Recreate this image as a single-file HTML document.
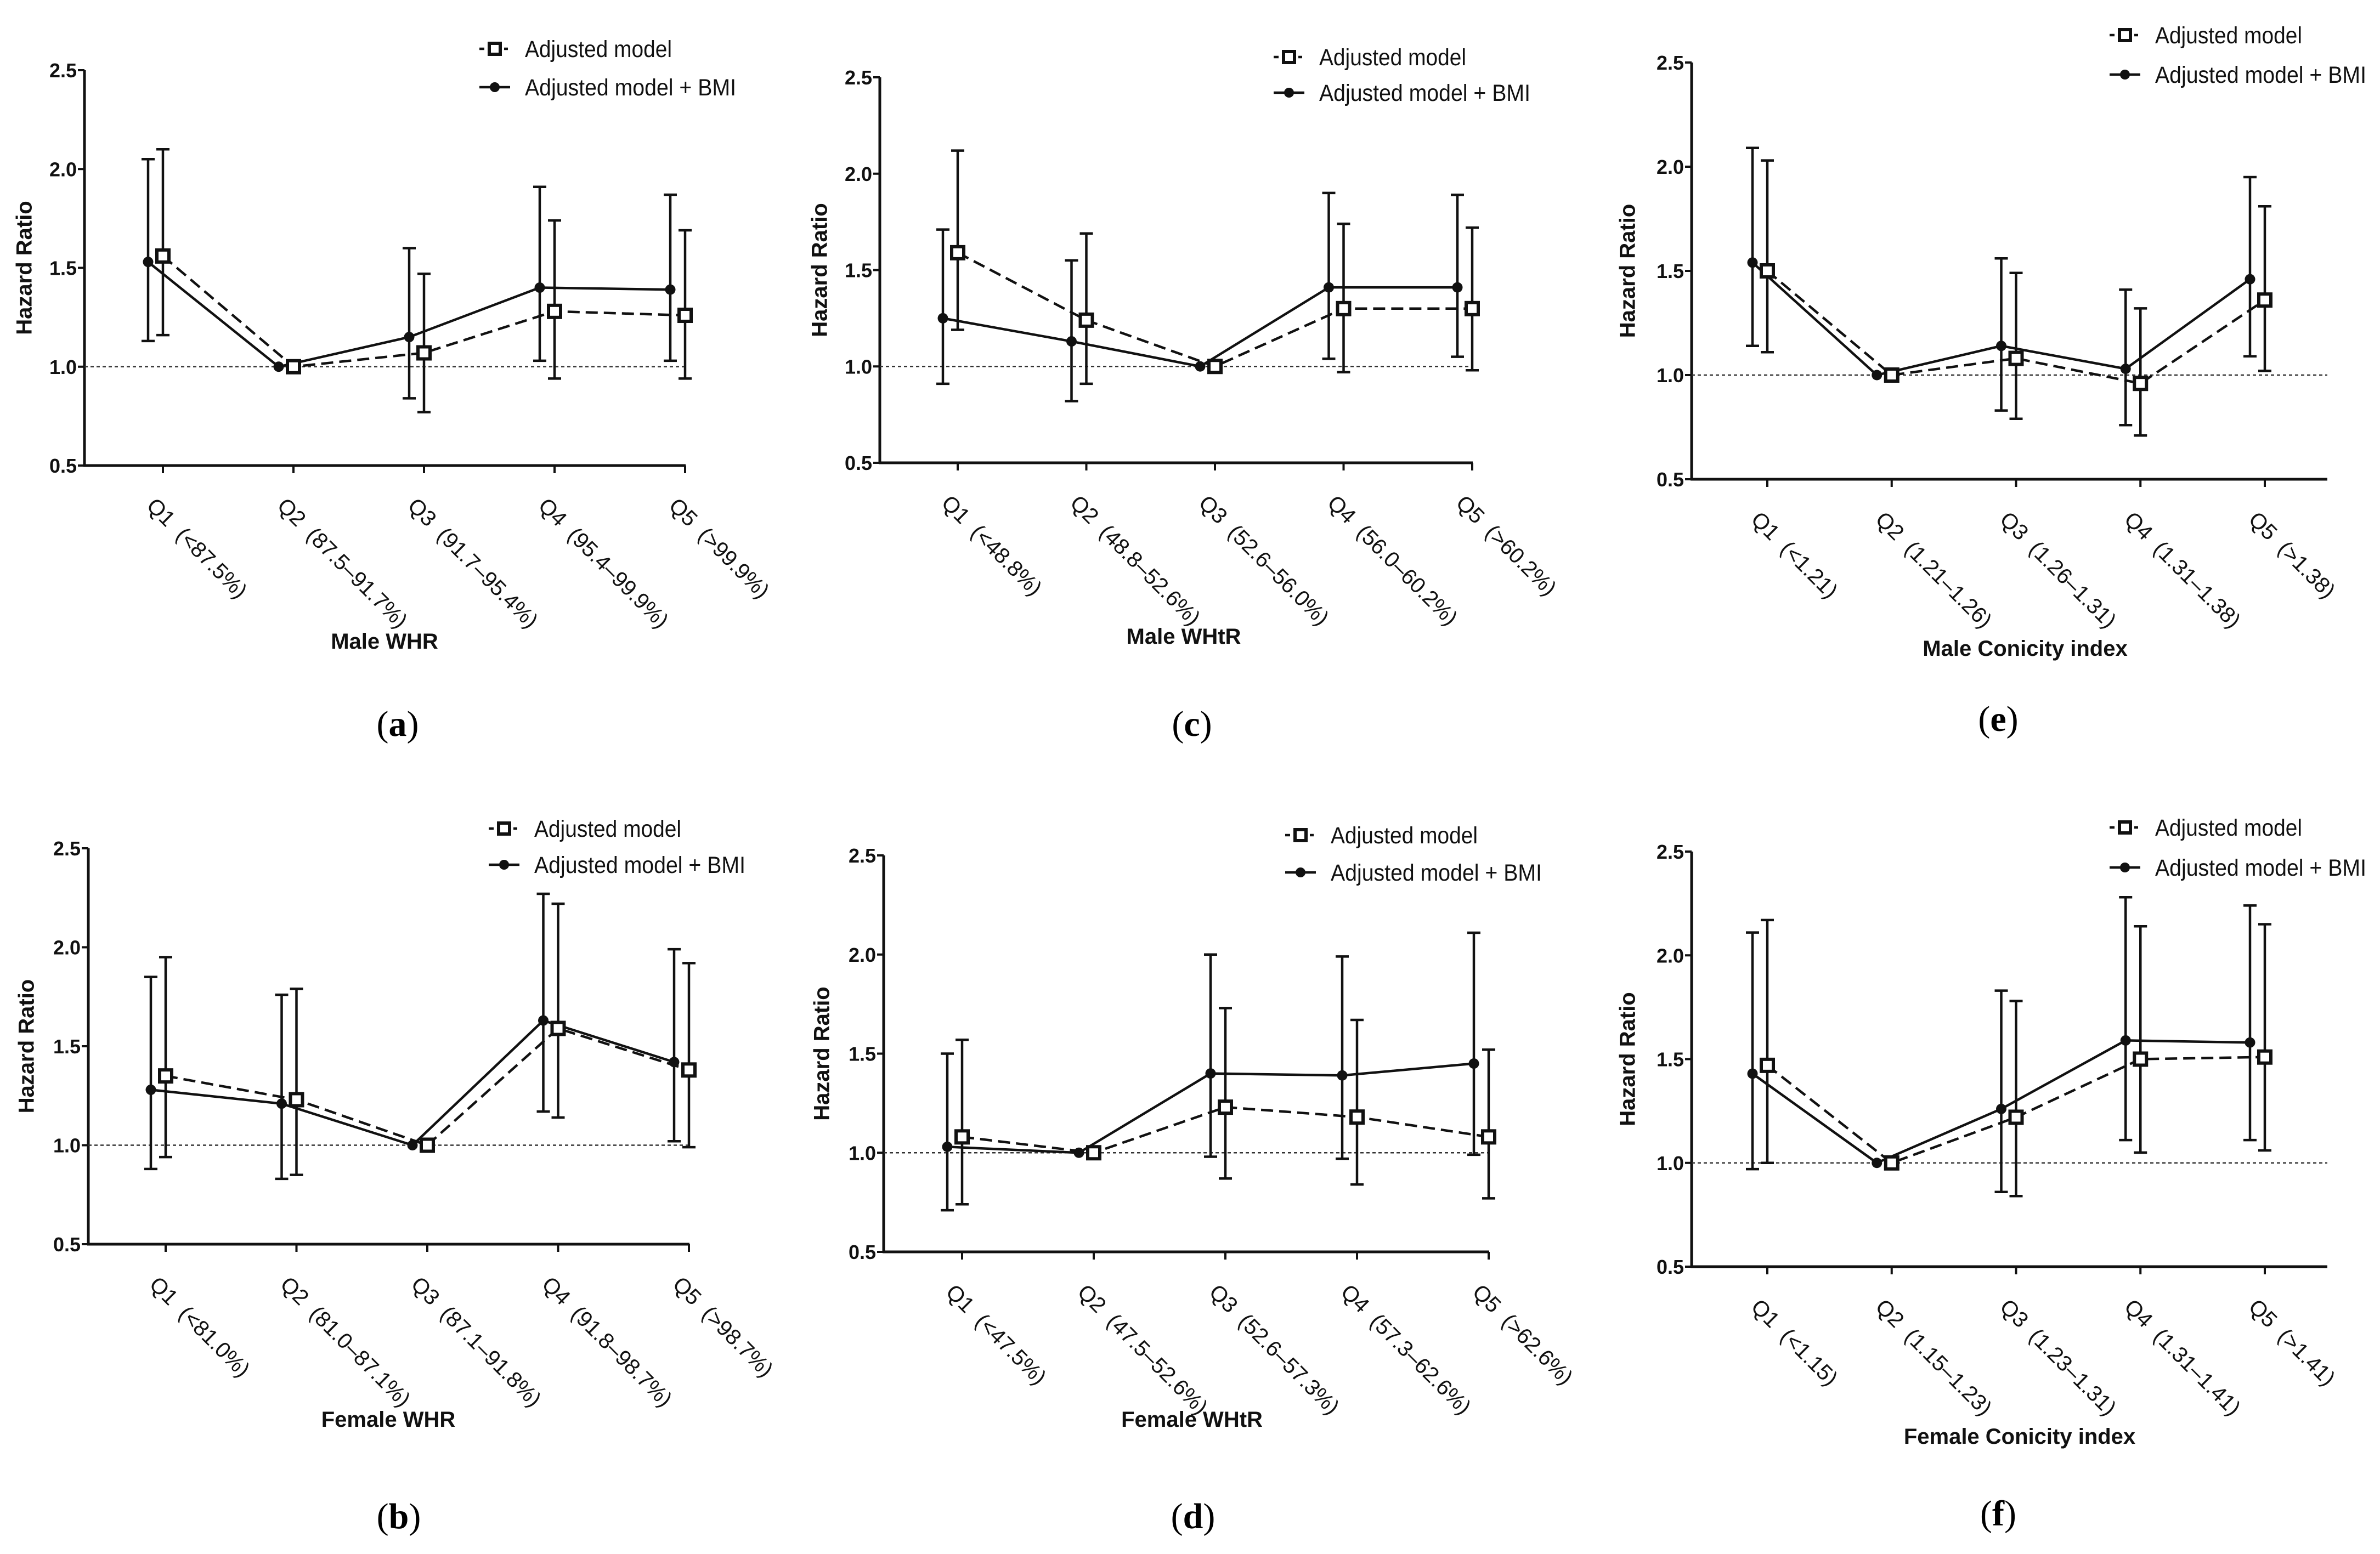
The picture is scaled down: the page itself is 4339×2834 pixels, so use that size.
<!DOCTYPE html>
<html><head><meta charset="utf-8"><style>
html,body{margin:0;padding:0;background:#fff;}
svg{display:block;}
</style></head><body>
<svg id="fig" xmlns="http://www.w3.org/2000/svg" width="4339" height="2834" viewBox="0 0 4339 2834" font-family="Liberation Sans, Arial, sans-serif"></svg>
<script>
// ---- data ----
const categories = ["Q1","Q2","Q3","Q4","Q5"];
const yTicks = [0.5,1.0,1.5,2.0,2.5];
const yTickLabels = ["0.5","1.0","1.5","2.0","2.5"];
const legendLabels = ["Adjusted model","Adjusted model + BMI"];

const aRanges = ["(<87.5%)","(87.5–91.7%)","(91.7–95.4%)","(95.4–99.9%)","(>99.9%)"];
const aAdj = [1.56,1.00,1.07,1.28,1.26];
const aAdjLo = [1.16,null,0.77,0.94,0.94];
const aAdjHi = [2.10,null,1.47,1.74,1.69];
const aBmi = [1.53,1.00,1.15,1.40,1.39];
const aBmiLo = [1.13,null,0.84,1.03,1.03];
const aBmiHi = [2.05,null,1.60,1.91,1.87];

const cRanges = ["(<48.8%)","(48.8–52.6%)","(52.6–56.0%)","(56.0–60.2%)","(>60.2%)"];
const cAdj = [1.59,1.24,1.00,1.30,1.30];
const cAdjLo = [1.19,0.91,null,0.97,0.98];
const cAdjHi = [2.12,1.69,null,1.74,1.72];
const cBmi = [1.25,1.13,1.00,1.41,1.41];
const cBmiLo = [0.91,0.82,null,1.04,1.05];
const cBmiHi = [1.71,1.55,null,1.90,1.89];

const eRanges = ["(<1.21)","(1.21–1.26)","(1.26–1.31)","(1.31–1.38)","(>1.38)"];
const eAdj = [1.50,1.00,1.08,0.96,1.36];
const eAdjLo = [1.11,null,0.79,0.71,1.02];
const eAdjHi = [2.03,null,1.49,1.32,1.81];
const eBmi = [1.54,1.00,1.14,1.03,1.46];
const eBmiLo = [1.14,null,0.83,0.76,1.09];
const eBmiHi = [2.09,null,1.56,1.41,1.95];

const bRanges = ["(<81.0%)","(81.0–87.1%)","(87.1–91.8%)","(91.8–98.7%)","(>98.7%)"];
const bAdj = [1.35,1.23,1.00,1.59,1.38];
const bAdjLo = [0.94,0.85,null,1.14,0.99];
const bAdjHi = [1.95,1.79,null,2.22,1.92];
const bBmi = [1.28,1.21,1.00,1.63,1.42];
const bBmiLo = [0.88,0.83,null,1.17,1.02];
const bBmiHi = [1.85,1.76,null,2.27,1.99];

const dRanges = ["(<47.5%)","(47.5–52.6%)","(52.6–57.3%)","(57.3–62.6%)","(>62.6%)"];
const dAdj = [1.08,1.00,1.23,1.18,1.08];
const dAdjLo = [0.74,null,0.87,0.84,0.77];
const dAdjHi = [1.57,null,1.73,1.67,1.52];
const dBmi = [1.03,1.00,1.40,1.39,1.45];
const dBmiLo = [0.71,null,0.98,0.97,0.99];
const dBmiHi = [1.50,null,2.00,1.99,2.11];

const fRanges = ["(<1.15)","(1.15–1.23)","(1.23–1.31)","(1.31–1.41)","(>1.41)"];
const fAdj = [1.47,1.00,1.22,1.50,1.51];
const fAdjLo = [1.00,null,0.84,1.05,1.06];
const fAdjHi = [2.17,null,1.78,2.14,2.15];
const fBmi = [1.43,1.00,1.26,1.59,1.58];
const fBmiLo = [0.97,null,0.86,1.11,1.11];
const fBmiHi = [2.11,null,1.83,2.28,2.24];

// ---- layout (pixels) ----
const panels = [
 {id:"a",title:"Male WHR",ranges:aRanges,adj:aAdj,adjLo:aAdjLo,adjHi:aAdjHi,bmi:aBmi,bmiLo:aBmiLo,bmiHi:aBmiHi,
  ax:154,y25:128,y05:849,q1:297,q5:1249,xend:1250,lx:902,ly1:89,ly2:159,hx:47,tx:701,ty:1169,px:725,py:1320},
 {id:"c",title:"Male WHtR",ranges:cRanges,adj:cAdj,adjLo:cAdjLo,adjHi:cAdjHi,bmi:cBmi,bmiLo:cBmiLo,bmiHi:cBmiHi,
  ax:1604,y25:141,y05:844,q1:1746,q5:2684,xend:2685,lx:2350,ly1:104,ly2:169,hx:1497,tx:2158,ty:1160,px:2173,py:1320},
 {id:"e",title:"Male Conicity index",ranges:eRanges,adj:eAdj,adjLo:eAdjLo,adjHi:eAdjHi,bmi:eBmi,bmiLo:eBmiLo,bmiHi:eBmiHi,
  ax:3084,y25:114,y05:874,q1:3222,q5:4129,xend:4243,lx:3874,ly1:64,ly2:136,hx:2970,tx:3692,ty:1182,px:3643,py:1311},
 {id:"b",title:"Female WHR",ranges:bRanges,adj:bAdj,adjLo:bAdjLo,adjHi:bAdjHi,bmi:bBmi,bmiLo:bBmiLo,bmiHi:bBmiHi,
  ax:161,y25:1547,y05:2269,q1:302,q5:1256,xend:1257,lx:919,ly1:1511,ly2:1577,hx:51,tx:708,ty:2588,px:727,py:2765},
 {id:"d",title:"Female WHtR",ranges:dRanges,adj:dAdj,adjLo:dAdjLo,adjHi:dAdjHi,bmi:dBmi,bmiLo:dBmiLo,bmiHi:dBmiHi,
  ax:1611,y25:1560,y05:2283,q1:1754,q5:2714,xend:2715,lx:2371,ly1:1523,ly2:1591,hx:1501,tx:2173,ty:2588,px:2175,py:2765},
 {id:"f",title:"Female Conicity index",ranges:fRanges,adj:fAdj,adjLo:fAdjLo,adjHi:fAdjHi,bmi:fBmi,bmiLo:fBmiLo,bmiHi:fBmiHi,
  ax:3084,y25:1553,y05:2310,q1:3222,q5:4129,xend:4243,lx:3874,ly1:1509,ly2:1582,hx:2970,tx:3682,ty:2619,px:3643,py:2760}
];
const legendWidths=[268,385];

const NS="http://www.w3.org/2000/svg";
const svg=document.getElementById("fig");
function mk(tag,attrs,parent){const e=document.createElementNS(NS,tag);for(const k in attrs)e.setAttribute(k,attrs[k]);(parent||svg).appendChild(e);return e;}

panels.forEach(p=>{
  const g=mk("g",{});
  
  
  const yS=v=>p.y05+(p.y25-p.y05)*(v-0.5)/2.0;
  const xS=i=>p.q1+(p.q5-p.q1)*i/(categories.length-1);
  const off=27;
  const ya=mk("line",{x1:p.ax,y1:p.y25,x2:p.ax,y2:p.y05+2,stroke:"#111","stroke-width":5},g);
  
  
  const xa=mk("line",{x1:p.ax-2,y1:p.y05,x2:p.xend,y2:p.y05,stroke:"#111","stroke-width":5},g);
  
  
  yTicks.forEach((v,i)=>{
    mk("line",{x1:p.ax-12,y1:yS(v),x2:p.ax,y2:yS(v),stroke:"#111","stroke-width":4},g);
    const t=mk("text",{x:p.ax-14,y:yS(v)+13,"text-anchor":"end","font-size":36,"font-weight":"bold",fill:"#111"},g);
    t.textContent=yTickLabels[i];
    
    
  });
  const rl=mk("line",{x1:p.ax,y1:yS(1),x2:p.xend,y2:yS(1),stroke:"#333","stroke-width":2.5,"stroke-dasharray":"6 5"},g);
  
  
  categories.forEach((c,i)=>{
    const x=xS(i);
    mk("line",{x1:x,y1:p.y05,x2:x,y2:p.y05+14,stroke:"#111","stroke-width":4},g);
    const tx=x-12, ty=p.y05+56;
    const t=mk("text",{x:tx,y:ty,transform:`rotate(45 ${tx} ${ty})`,"font-size":40,fill:"#111","dominant-baseline":"hanging"},g);
    t.textContent=c+"\u00a0\u00a0"+p.ranges[i];
    
    
  });
  function ebar(x,lo,hi,name){
    if(lo==null)return;
    const eg=mk("g",{stroke:"#111","stroke-width":4.5,fill:"none"},g);
    
    
    mk("line",{x1:x,y1:yS(lo),x2:x,y2:yS(hi)},eg);
    mk("line",{x1:x-12,y1:yS(lo),x2:x+12,y2:yS(lo)},eg);
    mk("line",{x1:x-12,y1:yS(hi),x2:x+12,y2:yS(hi)},eg);
  }
  categories.forEach((c,i)=>{ebar(xS(i)-off,p.bmiLo[i],p.bmiHi[i],'error-bar-bmi');ebar(xS(i),p.adjLo[i],p.adjHi[i],'error-bar-adjusted');});
  const bl=mk("polyline",{points:p.bmi.map((v,i)=>`${xS(i)-off},${yS(v)}`).join(" "),fill:"none",stroke:"#111","stroke-width":4.5},g);
  
  
  const al=mk("polyline",{points:p.adj.map((v,i)=>`${xS(i)},${yS(v)}`).join(" "),fill:"none",stroke:"#111","stroke-width":4.5,"stroke-dasharray":"22 11"},g);
  
  
  p.bmi.forEach((v,i)=>{
    const c=mk("circle",{cx:xS(i)-off,cy:yS(v),r:9.5,fill:"#111"},g);
    
    
  });
  p.adj.forEach((v,i)=>{
    const r=mk("rect",{x:xS(i)-11,y:yS(v)-11,width:22,height:22,fill:"#fff",stroke:"#111","stroke-width":6},g);
    
    
  });
  const lg=mk("g",{},g);
  
  
  mk("line",{x1:p.lx-28,y1:p.ly1,x2:p.lx+24,y2:p.ly1,stroke:"#111","stroke-width":4.5,"stroke-dasharray":"9 6"},lg);
  mk("rect",{x:p.lx-10,y:p.ly1-10,width:20,height:20,fill:"#fff",stroke:"#111","stroke-width":6},lg);
  mk("line",{x1:p.lx-28,y1:p.ly2,x2:p.lx+28,y2:p.ly2,stroke:"#111","stroke-width":4.5},lg);
  mk("circle",{cx:p.lx,cy:p.ly2,r:9,fill:"#111"},lg);
  [p.ly1,p.ly2].forEach((y,i)=>{
    const t=mk("text",{x:p.lx+55,y:y+15,"font-size":43,fill:"#111",textLength:legendWidths[i],lengthAdjust:"spacingAndGlyphs"},lg);
    t.textContent=legendLabels[i];
    
    
  });
  const yt=mk("text",{x:p.hx,y:(p.y25+p.y05)/2,transform:`rotate(-90 ${p.hx} ${(p.y25+p.y05)/2})`,"text-anchor":"middle","dominant-baseline":"middle","font-size":40,"font-weight":"bold",fill:"#111"},g);
  yt.textContent="Hazard Ratio";
  
  
  const xt=mk("text",{x:p.tx,y:p.ty+14,"text-anchor":"middle","font-size":40,"font-weight":"bold",fill:"#111"},g);
  xt.textContent=p.title;
  
  
  const pl=mk("text",{x:p.px,y:p.py+22,"text-anchor":"middle","font-size":66,"font-family":"Liberation Serif, serif",fill:"#000"},g);
  pl.innerHTML='(<tspan font-weight="bold">'+p.id+'</tspan>)';
  
  
});
</script>
</body></html>
